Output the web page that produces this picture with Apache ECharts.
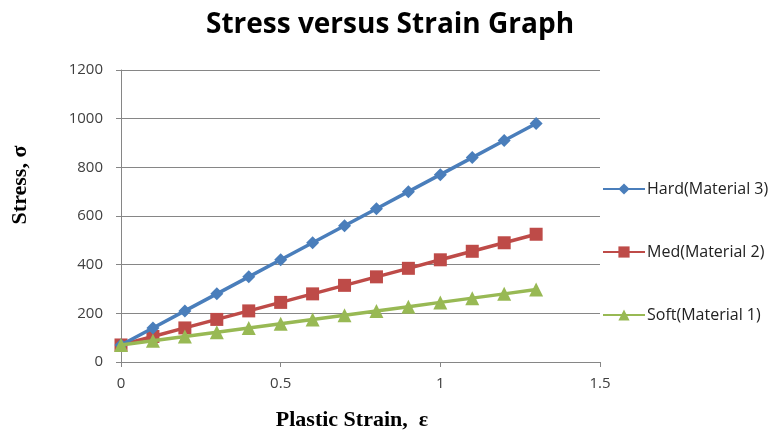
<!DOCTYPE html>
<html>
<head>
<meta charset="utf-8">
<script src="https://cdn.jsdelivr.net/npm/echarts@6/dist/echarts.min.js"></script>
<style>html,body{margin:0;padding:0;background:#fff}#c{width:780px;height:436px}</style>
</head>
<body>
<div id="c"></div>
<script>
var strain = [0, 0.1, 0.2, 0.3, 0.4, 0.5, 0.6, 0.7, 0.8, 0.9, 1.0, 1.1, 1.2, 1.3];
var hard = [70, 140, 210, 280, 350, 420, 490, 560, 630, 700, 770, 840, 910, 980];
var med = [70, 105, 140, 175, 210, 245, 280, 315, 350, 385, 420, 455, 490, 525];
var soft = [70, 87.5, 105, 122.5, 140, 157.5, 175, 192.5, 210, 227.5, 245, 262.5, 280, 297.5];
var seriesNames = ['Hard(Material 3)', 'Med(Material 2)', 'Soft(Material 1)'];
var xTicks = [0, 0.5, 1, 1.5];
var yTicks = [0, 200, 400, 600, 800, 1000, 1200];

function pairs(ys) { return strain.map(function (x, i) { return [x, ys[i]]; }); }

var chart = echarts.init(document.getElementById('c'), null, { renderer: 'canvas' });
var labelStyle = { color: '#404040', fontFamily: 'Open Sans', fontSize: 15 };
chart.setOption({
  animation: false,
  title: {
    text: 'Stress versus Strain Graph',
    left: 'center', top: 6,
    textStyle: { fontFamily: 'Open Sans', fontWeight: 'bold', fontSize: 28, color: '#000' }
  },
  grid: { left: 121, right: 180, top: 70, bottom: 74 },
  legend: {
    orient: 'vertical', left: 597, top: 176, itemGap: 47,
    itemWidth: 42, itemHeight: 14,
    textStyle: { fontFamily: 'Open Sans', fontSize: 16, color: '#222', padding: [0, 0, 0, -3] },
    data: seriesNames
  },
  xAxis: {
    type: 'value', min: 0, max: 1.5, interval: 0.5,
    axisLine: { show: true, lineStyle: { color: '#868686', width: 1 } },
    axisTick: { show: true, length: 5, lineStyle: { color: '#868686' } },
    splitLine: { show: false },
    axisLabel: Object.assign({ margin: 14, formatter: function (v) { return xTicks.indexOf(v) >= 0 ? String(v) : ''; } }, labelStyle)
  },
  yAxis: {
    type: 'value', min: 0, max: 1200, interval: 200,
    axisLine: { show: true, lineStyle: { color: '#868686', width: 1 } },
    axisTick: { show: true, length: 5, lineStyle: { color: '#868686' } },
    splitLine: { show: true, lineStyle: { color: '#868686', width: 1 } },
    axisLabel: Object.assign({ margin: 18, formatter: function (v) { return yTicks.indexOf(v) >= 0 ? String(v) : ''; } }, labelStyle)
  },
  graphic: [
    { type: 'text', x: 352, y: 420, style: { text: 'Plastic Strain,  ε', fontFamily: 'Liberation Serif', fontWeight: 'bold', fontSize: 22, fill: '#000', textAlign: 'center', textVerticalAlign: 'middle' } },
    { type: 'text', x: 20, y: 185, rotation: Math.PI / 2, style: { text: 'Stress, σ', fontFamily: 'Liberation Serif', fontWeight: 'bold', fontSize: 22, fill: '#000', textAlign: 'center', textVerticalAlign: 'middle' } }
  ],
  series: [
    { name: seriesNames[0], type: 'line', data: pairs(hard), symbol: 'diamond', symbolSize: 13,
      lineStyle: { width: 3.5, color: '#4A7EBB' }, itemStyle: { color: '#4A7EBB' }, z: 4 },
    { name: seriesNames[1], type: 'line', data: pairs(med), symbol: 'rect', symbolSize: 13,
      lineStyle: { width: 3.5, color: '#BE4B48' }, itemStyle: { color: '#BE4B48' }, z: 3 },
    { name: seriesNames[2], type: 'line', data: pairs(soft), symbol: 'triangle', symbolSize: 14,
      lineStyle: { width: 3.5, color: '#98B954' }, itemStyle: { color: '#98B954' }, z: 5 }
  ]
});
</script>
</body>
</html>
